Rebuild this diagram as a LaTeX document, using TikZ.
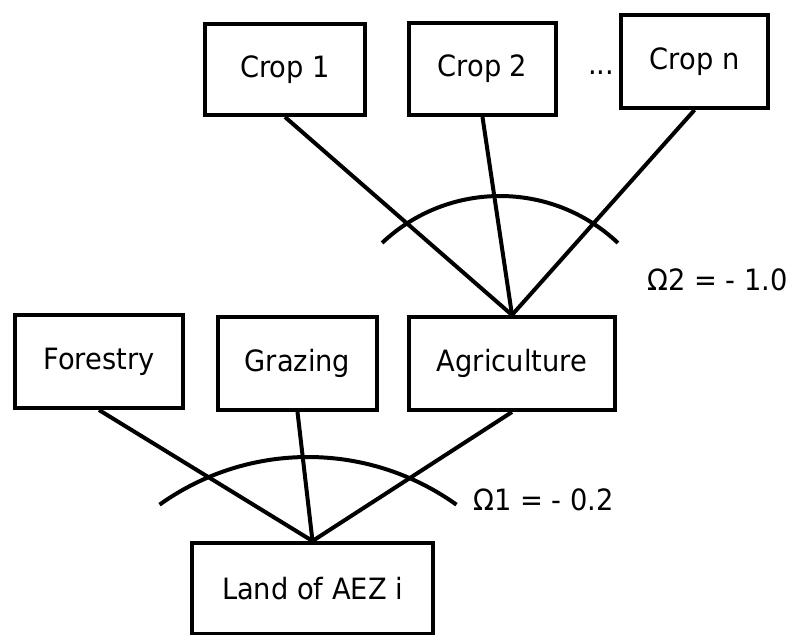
\documentclass[tikz,border=0pt]{standalone}
\usepackage{fontspec}
\setmainfont{DejaVu Sans}[FakeStretch=0.93]
\usepackage{tikz}
\tikzset{
    landbox/.style={draw, line width=3pt, inner sep=0pt, font=\fontsize{22}{26}\selectfont},
    link/.style={line width=3pt},
    nestarc/.style={line width=3pt},
    elas/.style={inner sep=0pt, font=\fontsize{22}{26}\selectfont}
}

\begin{document}
\begin{tikzpicture}[x=0.75pt, y=-0.75pt]
    \useasboundingbox (0,0) rectangle (801,635);

    % Crops
    \node[landbox, minimum width=120pt, minimum height=68.25pt] (C1) at (285,69.5) {Crop 1};
    \node[landbox, minimum width=110.25pt, minimum height=69pt] (C2) at (482.5,69) {Crop 2};
    \node[landbox, minimum width=110.25pt, minimum height=69.75pt] (Cn) at (694.5,61.5) {Crop n};
    \node[elas, anchor=base west] (dots) at (588,75) {...};

    % Land uses
    \node[landbox, minimum width=126pt, minimum height=69.75pt] (For) at (99,361.5) {Forestry};
    \node[landbox, minimum width=119.25pt, minimum height=69.75pt] (Gra) at (297.5,363.5) {Grazing};
    \node[landbox, minimum width=154.5pt, minimum height=69.75pt] (Agr) at (512,363.5) {Agriculture};

    % Land endowment
    \node[landbox, minimum width=180.75pt, minimum height=68.25pt] (Land) at (312.5,588.5) {Land of AEZ i};

    % Nest links
    \draw[link] (C1.south) -- (Agr.north);
    \draw[link] (C2.south) -- (Agr.north);
    \draw[link] (Cn.south) -- (Agr.north);
    \draw[link] (For.south) -- (Land.north);
    \draw[link] (Gra.south) -- (Land.north);
    \draw[link] (Agr.south) -- (Land.north);

    % Elasticity arcs
    \draw[nestarc] ([shift={(-133.4:171.6)}]500,367.6) arc[start angle=-133.4, end angle=-46.6, radius=171.6];
    \draw[nestarc] ([shift={(-125.6:255)}]308,712) arc[start angle=-125.6, end angle=-54.4, radius=255];
    \node[elas, anchor=west] (om2) at (647,280) {Ω2 = - 1.0};
    \node[elas, anchor=west] (om1) at (473,500) {Ω1 = - 0.2};
\end{tikzpicture}
\end{document}
